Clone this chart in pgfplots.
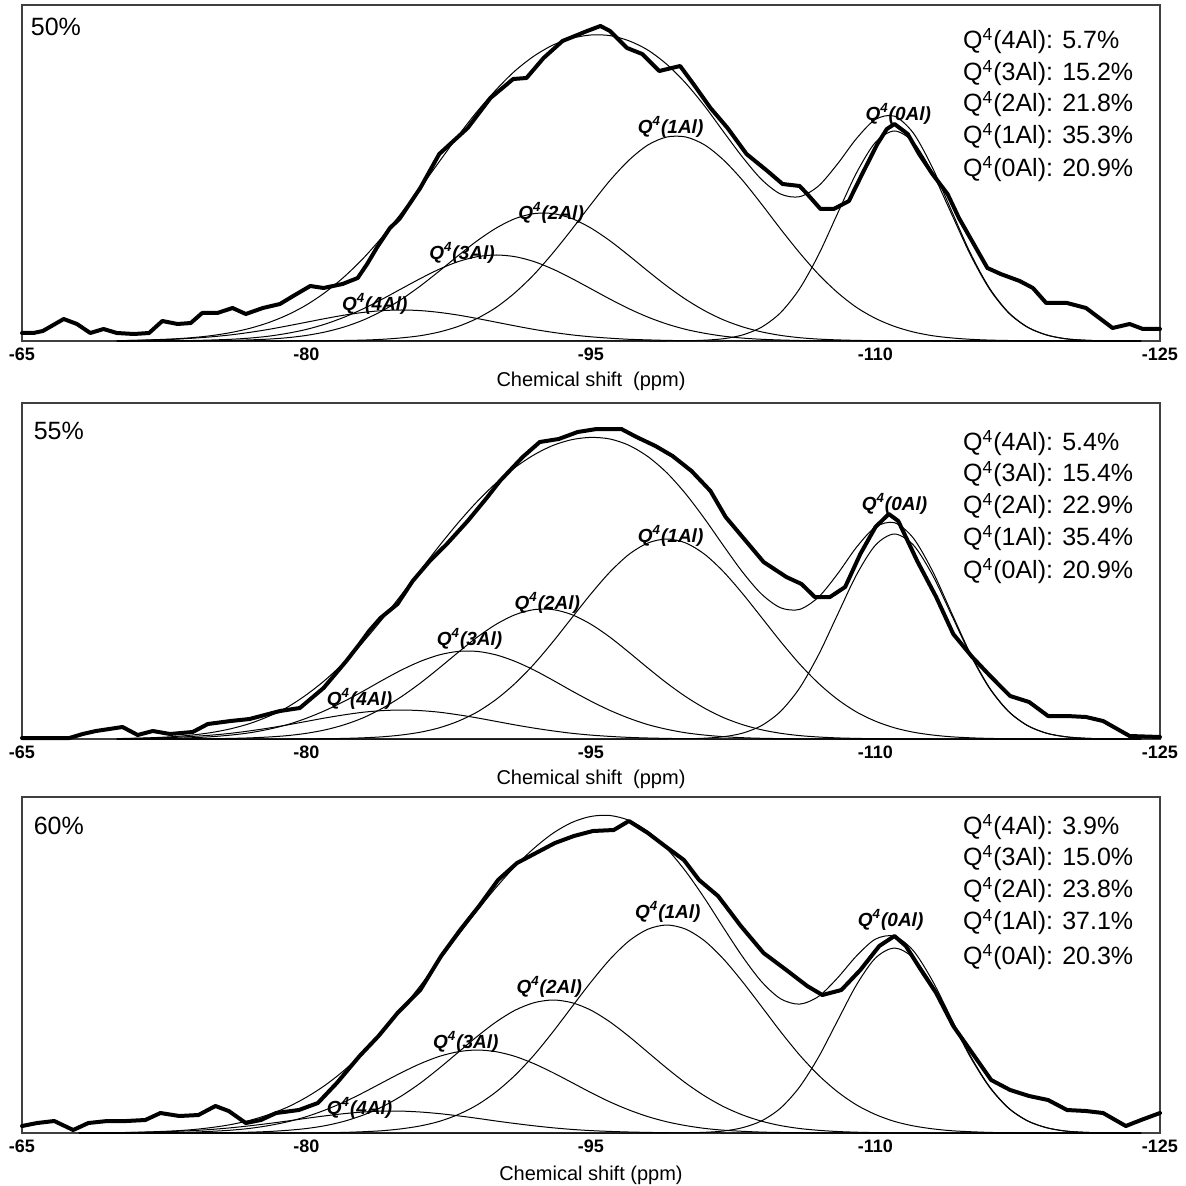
\documentclass[border=0pt]{standalone}
\usepackage{fontspec}
\setmainfont{Liberation Sans}
\usepackage{pgfplots}
\pgfplotsset{compat=1.18}
\usepackage{pgfplotstable}

% Panel 1 (50%): fitted components and their sum
\pgfplotstableread{
x c4 c3 c2 c1 c0 s
-70 0.3 0 0 0 0 0.3
-71 0.6 0.1 0 0 0 0.7
-72 1.1 0.1 0.1 0 0 1.3
-73 1.7 0.3 0.1 0 0 2.1
-74 2.8 0.5 0.2 0 0 3.4
-75 4.2 1.0 0.3 0 0 5.4
-76 6.1 1.7 0.6 0 0 8.4
-77 8.6 2.9 1.1 0 0 12.6
-78 11.6 4.8 1.9 0 0 18.4
-79 15.1 7.7 3.3 0 0 26.1
-80 18.8 11.6 5.6 0.1 0 36.1
-81 22.5 17.0 9.1 0.2 0 48.8
-82 25.9 23.9 14.1 0.5 0 64.4
-83 28.6 32.3 21.0 0.9 0 82.8
-84 30.4 41.9 30.2 1.7 0 104.2
-85 31.0 52.2 41.6 3.1 0 127.9
-86 30.4 62.4 55.0 5.3 0 153.1
-87 28.6 71.8 69.9 9.0 0 179.3
-88 25.9 79.4 85.4 14.6 0 205.3
-89 22.5 84.3 100.2 22.6 0 229.6
-90 18.8 86.0 112.9 33.6 0 251.3
-91 15.1 84.3 122.4 48.4 0 270.2
-92 11.6 79.4 127.4 66.6 0 285.0
-93 8.6 71.8 127.4 88.2 0 296.0
-94 6.1 62.4 122.4 111.9 0 302.8
-95 4.2 52.2 112.9 136.7 0 306.0
-96 2.8 41.9 100.2 160.5 0 305.4
-97 1.7 32.3 85.4 180.8 0 300.2
-98 1.1 23.9 69.9 196.0 0 290.9
-99 0.6 17.0 55.0 204.0 0 276.6
-100 0.3 11.6 41.6 204.0 0.2 257.7
-101 0 7.7 30.2 196.0 0.8 234.7
-102 0 4.8 21.0 180.8 2.3 208.9
-103 0 2.9 14.1 160.5 6.1 183.6
-104 0 1.7 9.1 136.7 13.9 161.4
-105 0 1.0 5.6 111.9 28.4 146.9
-106 0 0.5 3.3 88.2 52.3 144.3
-107 0 0.3 1.9 66.6 86.3 155.1
-108 0 0.1 1.1 48.4 127.5 177.1
-109 0 0.1 0.6 33.6 168.2 202.5
-110 0 0 0.3 22.6 198.7 221.6
-111 0 0 0.2 14.6 210.0 224.8
-112 0 0 0.1 9.0 198.7 207.8
-113 0 0 0 5.3 168.2 173.5
-114 0 0 0 3.1 127.5 130.6
-115 0 0 0 1.7 86.3 88.0
-116 0 0 0 0.9 52.3 53.2
-117 0 0 0 0.5 28.4 28.9
-118 0 0 0 0.2 13.9 14.1
-119 0 0 0 0.1 6.1 6.2
-120 0 0 0 0 2.3 2.3
-121 0 0 0 0 0.8 0.8
-122 0 0 0 0 0.2 0.2
-123 0 0 0 0 0 0
-124 0 0 0 0 0 0
}\fitA

% Panel 2 (55%)
\pgfplotstableread{
x c4 c3 c2 c1 c0 s
-70 0.3 0.1 0 0 0 0.4
-71 0.6 0.2 0 0 0 0.8
-72 1.0 0.4 0 0 0 1.4
-73 1.6 0.7 0.1 0 0 2.4
-74 2.6 1.3 0.1 0 0 4.0
-75 3.9 2.3 0.3 0 0 6.5
-76 5.7 3.9 0.6 0 0 10.2
-77 8.1 6.2 1.1 0 0 15.4
-78 10.9 9.7 2.0 0 0 22.6
-79 14.1 14.4 3.4 0 0 31.9
-80 17.6 20.8 5.7 0.2 0 44.3
-81 21.1 28.6 9.2 0.3 0 59.2
-82 24.2 37.8 14.3 0.6 0 76.9
-83 26.8 48.0 21.3 1.2 0 97.3
-84 28.4 58.7 30.7 2.2 0 120.0
-85 29.0 68.9 42.3 4.0 0 144.2
-86 28.4 77.6 55.9 6.8 0 168.7
-87 26.8 84.1 71.0 11.2 0 193.1
-88 24.2 87.6 86.7 17.8 0 216.3
-89 21.1 87.6 101.8 27.0 0 237.5
-90 17.6 84.1 114.7 39.6 0 256.0
-91 14.1 77.6 124.3 55.6 0 271.6
-92 10.9 68.9 129.4 75.0 0 284.2
-93 8.1 58.7 129.4 97.4 0 293.6
-94 5.7 48.0 124.3 121.4 0 299.4
-95 3.9 37.8 114.7 145.2 0 301.6
-96 2.6 28.6 101.8 167.0 0 300.0
-97 1.6 20.8 86.7 184.6 0 293.7
-98 1.0 14.4 71.0 196.0 0 282.4
-99 0.6 9.7 55.9 200.0 0 266.2
-100 0.3 6.2 42.3 196.0 0.2 245.0
-101 0 3.9 30.7 184.6 0.8 220.0
-102 0 2.3 21.3 167.0 2.3 192.9
-103 0 1.3 14.3 145.2 5.9 166.7
-104 0 0.7 9.2 121.4 13.5 144.8
-105 0 0.4 5.7 97.4 27.7 131.2
-106 0 0.2 3.4 75.0 51.0 129.6
-107 0 0.1 2.0 55.6 84.3 142.0
-108 0 0 1.1 39.6 124.4 165.1
-109 0 0 0.6 27.0 164.2 191.8
-110 0 0 0.3 17.8 193.9 212.0
-111 0 0 0.1 11.2 205.0 216.3
-112 0 0 0.1 6.8 193.9 200.8
-113 0 0 0 4.0 164.2 168.2
-114 0 0 0 2.2 124.4 126.6
-115 0 0 0 1.2 84.3 85.5
-116 0 0 0 0.6 51.0 51.6
-117 0 0 0 0.3 27.7 28.0
-118 0 0 0 0.2 13.5 13.7
-119 0 0 0 0 5.9 5.9
-120 0 0 0 0 2.3 2.3
-121 0 0 0 0 0.8 0.8
-122 0 0 0 0 0.2 0.2
-123 0 0 0 0 0 0
-124 0 0 0 0 0 0
}\fitB

% Panel 3 (60%)
\pgfplotstableread{
x c4 c3 c2 c1 c0 s
-68 0.1 0 0 0 0 0.1
-69 0.2 0 0 0 0 0.2
-70 0.3 0.1 0 0 0 0.4
-71 0.6 0.1 0 0 0 0.7
-72 1.0 0.3 0 0 0 1.3
-73 1.6 0.5 0 0 0 2.1
-74 2.4 0.9 0.1 0 0 3.4
-75 3.6 1.7 0.2 0 0 5.5
-76 5.2 2.8 0.4 0 0 8.4
-77 7.2 4.6 0.8 0 0 12.6
-78 9.5 7.4 1.5 0 0 18.4
-79 12.0 11.2 2.7 0 0 25.9
-80 14.7 16.4 4.5 0.2 0 35.8
-81 17.2 23.1 7.4 0.3 0 48.0
-82 19.4 31.1 11.8 0.6 0 62.9
-83 21.0 40.4 18.0 1.3 0 80.7
-84 21.9 50.4 26.3 2.3 0 100.9
-85 21.9 60.3 37.0 4.2 0 123.4
-86 21.0 69.3 49.9 7.1 0 147.3
-87 19.4 76.6 64.8 11.6 0 172.4
-88 17.2 81.3 80.7 18.5 0 197.7
-89 14.7 83.0 96.6 28.1 0 222.4
-90 12.0 81.3 111.1 41.2 0 245.6
-91 9.5 76.6 122.8 57.8 0 266.7
-92 7.2 69.3 130.3 78.0 0 284.8
-93 5.2 60.3 133.0 101.3 0 299.8
-94 3.6 50.4 130.3 126.3 0 310.6
-95 2.4 40.4 122.8 151.0 0 316.6
-96 1.6 31.1 111.1 173.7 0 317.5
-97 1.0 23.1 96.6 192.0 0 312.7
-98 0.6 16.4 80.7 203.8 0 301.5
-99 0.3 11.2 64.8 208.0 0 284.3
-100 0.2 7.4 49.9 203.8 0.2 261.5
-101 0.1 4.6 37.0 192.0 0.7 234.4
-102 0 2.8 26.3 173.7 2.0 204.8
-103 0 1.7 18.0 151.0 5.4 176.1
-104 0 0.9 11.8 126.3 12.2 151.2
-105 0 0.5 7.4 101.3 25.0 134.2
-106 0 0.3 4.5 78.0 46.1 128.9
-107 0 0.1 2.7 57.8 76.0 136.6
-108 0 0.1 1.5 41.2 112.3 155.1
-109 0 0 0.8 28.1 148.2 177.1
-110 0 0 0.4 18.5 175.0 193.9
-111 0 0 0.2 11.6 185.0 196.8
-112 0 0 0.1 7.1 175.0 182.2
-113 0 0 0 4.2 148.2 152.4
-114 0 0 0 2.3 112.3 114.6
-115 0 0 0 1.3 76.0 77.3
-116 0 0 0 0.6 46.1 46.7
-117 0 0 0 0.3 25.0 25.3
-118 0 0 0 0.2 12.2 12.4
-119 0 0 0 0 5.4 5.4
-120 0 0 0 0 2.0 2.0
-121 0 0 0 0 0.7 0.7
-122 0 0 0 0 0.2 0.2
-123 0 0 0 0 0 0
-124 0 0 0 0 0 0
}\fitC

\pgfplotsset{
  nmrpanel/.style={
    scale only axis, width=569pt, height=168pt,
    xmin=-125, xmax=-65, ymin=0, ymax=336, x dir=reverse,
    xtick={-125,-110,-95,-80,-65},
    xticklabels={-125,-110,-95,-80,-65},
    ytick=\empty,
    major tick length=0pt,
    axis line style={black!75, line width=0.8pt},
    tick label style={font=\fontsize{9}{10}\selectfont\bfseries},
    xlabel style={font=\fontsize{10}{12}\selectfont, at={(axis description cs:0.5,0)}, anchor=center, yshift=-20pt},
    clip=false,
    anchor=north west,
  },
}
\tikzset{
  comp/.style={black, line width=0.5pt, smooth},
  expt/.style={black, line width=2pt, line join=round, line cap=round},
  qlab/.style={inner sep=0pt, font=\fontsize{9.5}{11}\selectfont\bfseries\itshape},
  qtxt/.style={anchor=west, inner sep=0pt, font=\fontsize{12.5}{14}\selectfont},
}

\begin{document}
\begin{tikzpicture}
\useasboundingbox (0,0) rectangle (593pt,-593pt);

% ---------------- Panel 1 : 50% ----------------
\begin{axis}[nmrpanel, at={(11pt,-2.5pt)}, xlabel={Chemical shift\ \ (ppm)}]
\addplot[comp] table[x=x,y=c4] {\fitA};
\addplot[comp] table[x=x,y=c3] {\fitA};
\addplot[comp] table[x=x,y=c2] {\fitA};
\addplot[comp] table[x=x,y=c1] {\fitA};
\addplot[comp] table[x=x,y=c0] {\fitA};
\addplot[comp] table[x=x,y=s] {\fitA};
\addplot[expt] coordinates {
(-65.0,8) (-65.6,8) (-66.1,10) (-67.2,22) (-67.9,17) (-68.6,8) (-69.3,12) (-70.0,8)
(-70.9,7) (-71.7,8) (-72.4,20) (-73.2,17) (-73.9,18) (-74.5,28) (-75.3,28) (-76.1,33)
(-76.8,27) (-77.7,33) (-78.6,37) (-79.3,45) (-80.2,55) (-80.9,53) (-81.9,57) (-82.7,63)
(-83.2,77) (-83.7,93) (-84.4,113) (-84.9,122) (-86.0,153) (-87.0,187) (-88.5,213)
(-89.7,243) (-90.9,262) (-91.6,263) (-92.5,283) (-93.5,300) (-94.8,310) (-95.5,315)
(-96.0,310) (-96.9,293) (-97.7,287) (-98.6,270) (-99.7,275) (-100.4,257) (-101.3,233)
(-102.2,213) (-103.2,187) (-104.3,170) (-105.1,157) (-106.0,155) (-106.4,147)
(-107.1,132) (-107.8,132) (-108.6,140) (-109.3,167) (-110.1,197) (-110.6,212)
(-111.0,217) (-111.7,207) (-112.3,187) (-113.0,167) (-113.8,147) (-114.4,123)
(-115.3,93) (-115.9,73) (-116.6,67) (-117.6,60) (-118.3,53) (-119.0,38) (-120.1,38)
(-121.1,33) (-121.8,23) (-122.5,13) (-123.4,17) (-124.1,12) (-125.0,12)
};
\node[qlab] at (axis cs:-83.6,37) {Q\textsuperscript{4}(4Al)};
\node[qlab] at (axis cs:-88.2,88) {Q\textsuperscript{4}(3Al)};
\node[qlab] at (axis cs:-92.9,128) {Q\textsuperscript{4}(2Al)};
\node[qlab] at (axis cs:-99.2,214) {Q\textsuperscript{4}(1Al)};
\node[qlab] at (axis cs:-111.2,227) {Q\textsuperscript{4}(0Al)};
\node[qtxt] at (axis cs:-65.45,314) {50\%};
\node[qtxt] at (axis cs:-114.6,300) {Q\textsuperscript{4}(4Al): 5.7\%};
\node[qtxt] at (axis cs:-114.6,268) {Q\textsuperscript{4}(3Al): 15.2\%};
\node[qtxt] at (axis cs:-114.6,237) {Q\textsuperscript{4}(2Al): 21.8\%};
\node[qtxt] at (axis cs:-114.6,205) {Q\textsuperscript{4}(1Al): 35.3\%};
\node[qtxt] at (axis cs:-114.6,172) {Q\textsuperscript{4}(0Al): 20.9\%};
\end{axis}

% ---------------- Panel 2 : 55% ----------------
\begin{axis}[nmrpanel, at={(11pt,-201.5pt)}, xlabel={Chemical shift\ \ (ppm)}]
\addplot[comp] table[x=x,y=c4] {\fitB};
\addplot[comp] table[x=x,y=c3] {\fitB};
\addplot[comp] table[x=x,y=c2] {\fitB};
\addplot[comp] table[x=x,y=c1] {\fitB};
\addplot[comp] table[x=x,y=c0] {\fitB};
\addplot[comp] table[x=x,y=s] {\fitB};
\addplot[expt] coordinates {
(-65.0,1) (-66.0,1) (-67.0,1) (-67.5,1) (-68.2,5) (-68.9,8) (-70.3,12) (-71.1,4)
(-71.9,8) (-72.8,5) (-74.0,7) (-74.8,15) (-76.0,18) (-77.0,20) (-78.0,25) (-78.6,28)
(-79.65,31) (-80.9,51) (-82.1,78) (-82.8,95) (-83.3,108) (-83.9,121) (-84.8,135)
(-85.6,158) (-86.5,178) (-87.4,195) (-88.5,218) (-89.5,241) (-90.2,258) (-91.4,282)
(-92.3,297) (-93.3,300) (-94.3,307) (-95.3,310) (-96.6,310) (-97.4,302) (-98.4,293)
(-99.3,283) (-100.3,268) (-101.3,248) (-102.1,222) (-103.3,195) (-104.1,177)
(-105.3,162) (-106.1,155) (-106.8,142) (-107.6,142) (-108.4,152) (-109.2,185)
(-110.0,212) (-110.7,225) (-111.2,218) (-112.2,178) (-113.2,142) (-114.1,105)
(-115.1,82) (-116.1,62) (-117.1,43) (-118.1,37) (-119.1,23) (-120.1,23) (-121.1,22)
(-122.0,18) (-123.4,3) (-125.0,2)
};
\node[qlab] at (axis cs:-82.8,40) {Q\textsuperscript{4}(4Al)};
\node[qlab] at (axis cs:-88.6,100) {Q\textsuperscript{4}(3Al)};
\node[qlab] at (axis cs:-92.7,136) {Q\textsuperscript{4}(2Al)};
\node[qlab] at (axis cs:-99.2,203) {Q\textsuperscript{4}(1Al)};
\node[qlab] at (axis cs:-111.0,235) {Q\textsuperscript{4}(0Al)};
\node[qtxt] at (axis cs:-65.6,308) {55\%};
\node[qtxt] at (axis cs:-114.6,296) {Q\textsuperscript{4}(4Al): 5.4\%};
\node[qtxt] at (axis cs:-114.6,265) {Q\textsuperscript{4}(3Al): 15.4\%};
\node[qtxt] at (axis cs:-114.6,233) {Q\textsuperscript{4}(2Al): 22.9\%};
\node[qtxt] at (axis cs:-114.6,201) {Q\textsuperscript{4}(1Al): 35.4\%};
\node[qtxt] at (axis cs:-114.6,168) {Q\textsuperscript{4}(0Al): 20.9\%};
\end{axis}

% ---------------- Panel 3 : 60% ----------------
\begin{axis}[nmrpanel, at={(11pt,-398.5pt)}, xlabel={Chemical shift (ppm)}, xlabel style={yshift=-1pt}]
\addplot[comp] table[x=x,y=c4] {\fitC};
\addplot[comp] table[x=x,y=c3] {\fitC};
\addplot[comp] table[x=x,y=c2] {\fitC};
\addplot[comp] table[x=x,y=c1] {\fitC};
\addplot[comp] table[x=x,y=c0] {\fitC};
\addplot[comp] table[x=x,y=s] {\fitC};
\addplot[expt] coordinates {
(-65.0,7) (-65.8,10) (-66.7,12) (-67.7,3) (-68.5,10) (-69.5,12) (-70.5,12) (-71.5,13)
(-72.3,20) (-73.3,17) (-74.3,18) (-75.2,27) (-75.9,22) (-76.8,10) (-77.6,13) (-78.4,20)
(-79.6,23) (-80.6,30) (-81.6,50) (-82.8,77) (-83.8,97) (-84.8,120) (-86.0,143)
(-87.1,177) (-88.1,203) (-89.1,227) (-90.1,253) (-91.1,270) (-92.1,280) (-93.1,290)
(-94.1,297) (-95.1,302) (-96.2,303) (-97.0,312) (-98.0,300) (-98.9,287) (-99.9,273)
(-100.7,253) (-101.7,237) (-102.9,207) (-104.1,180) (-105.3,163) (-106.4,147)
(-107.2,138) (-108.2,143) (-109.2,163) (-110.2,187) (-111.0,197) (-111.6,187)
(-112.4,163) (-113.2,140) (-114.1,107) (-115.1,80) (-116.1,53) (-117.1,43) (-118.1,37)
(-119.1,33) (-120.1,23) (-121.1,22) (-122.0,20) (-123.2,7) (-124.0,13) (-125.0,20)
};
\node[qlab] at (axis cs:-82.8,25) {Q\textsuperscript{4}(4Al)};
\node[qlab] at (axis cs:-88.4,91) {Q\textsuperscript{4}(3Al)};
\node[qlab] at (axis cs:-92.8,146) {Q\textsuperscript{4}(2Al)};
\node[qlab] at (axis cs:-99.05,221) {Q\textsuperscript{4}(1Al)};
\node[qlab] at (axis cs:-110.8,213) {Q\textsuperscript{4}(0Al)};
\node[qtxt] at (axis cs:-65.6,307) {60\%};
\node[qtxt] at (axis cs:-114.6,306) {Q\textsuperscript{4}(4Al): 3.9\%};
\node[qtxt] at (axis cs:-114.6,275) {Q\textsuperscript{4}(3Al): 15.0\%};
\node[qtxt] at (axis cs:-114.6,243) {Q\textsuperscript{4}(2Al): 23.8\%};
\node[qtxt] at (axis cs:-114.6,211) {Q\textsuperscript{4}(1Al): 37.1\%};
\node[qtxt] at (axis cs:-114.6,176) {Q\textsuperscript{4}(0Al): 20.3\%};
\end{axis}
\end{tikzpicture}
\end{document}
